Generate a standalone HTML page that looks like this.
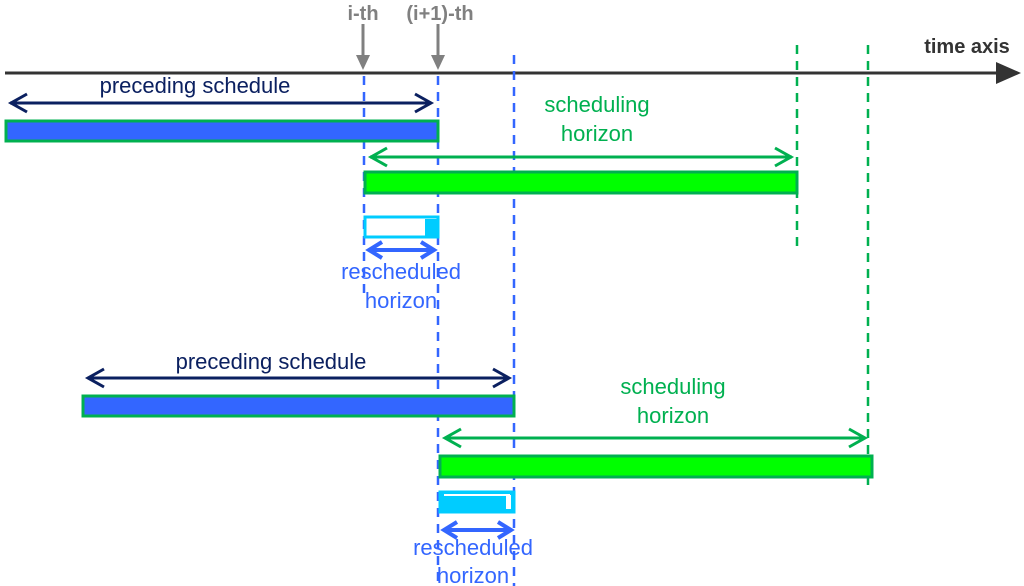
<!DOCTYPE html>
<html><head><style>body{margin:0;background:#fff}svg{display:block;font-family:"Liberation Sans",sans-serif}</style></head>
<body>
<svg width="1024" height="586" viewBox="0 0 1024 586">
<!-- axis -->
<line x1="5" y1="73" x2="1000" y2="73" stroke="#333" stroke-width="3"/>
<path d="M996,62 L1021,73 L996,84 Z" fill="#333"/>
<text x="967" y="53" font-size="20" font-weight="bold" fill="#333" text-anchor="middle">time axis</text>
<!-- markers -->
<text x="363" y="20" font-size="20" font-weight="bold" fill="#808080" text-anchor="middle">i-th</text>
<text x="440" y="20" font-size="20" font-weight="bold" fill="#808080" text-anchor="middle">(i+1)-th</text>
<line x1="363" y1="24" x2="363" y2="58" stroke="#808080" stroke-width="3"/>
<path d="M356,55 L363,70 L370,55 Z" fill="#808080"/>
<line x1="438" y1="24" x2="438" y2="58" stroke="#808080" stroke-width="3"/>
<path d="M431,55 L438,70 L445,55 Z" fill="#808080"/>
<!-- dashed lines -->
<g stroke="#3366ff" stroke-width="2.5" stroke-dasharray="9,7" fill="none">
<line x1="364" y1="76" x2="364" y2="300"/>
<line x1="438" y1="76" x2="438" y2="586"/>
<line x1="514" y1="55" x2="514" y2="586"/>
</g>
<g stroke="#00b050" stroke-width="2.5" stroke-dasharray="9,7" fill="none">
<line x1="797" y1="45" x2="797" y2="250"/>
<line x1="868" y1="45" x2="868" y2="485"/>
</g>
<!-- top block -->
<text x="195" y="93" font-size="22" fill="#0b2060" text-anchor="middle">preceding schedule</text>
<g stroke="#0b2060" stroke-width="3" fill="none">
<line x1="10" y1="103" x2="431" y2="103"/>
<polyline points="27,94 11,103 27,112"/><polyline points="415,94 431,103 415,112"/>
</g>
<rect x="6" y="121" width="432" height="20" fill="#3366ff" stroke="#00b050" stroke-width="3"/>
<text x="597" y="112" font-size="22" fill="#00b050" text-anchor="middle">scheduling</text>
<text x="597" y="141" font-size="22" fill="#00b050" text-anchor="middle">horizon</text>
<g stroke="#00b050" stroke-width="3" fill="none">
<line x1="370" y1="157" x2="792" y2="157"/>
<polyline points="387,148 371,157 387,166"/><polyline points="775,148 791,157 775,166"/>
</g>
<rect x="365" y="172" width="432" height="21" fill="#00ff00" stroke="#00b050" stroke-width="3"/>
<rect x="365" y="217" width="73" height="20" fill="#fff" stroke="#00ccff" stroke-width="3"/>
<rect x="425" y="219" width="13" height="18" fill="#00ccff"/>
<g stroke="#3366ff" stroke-width="4" fill="none">
<line x1="369" y1="250" x2="434" y2="250"/>
<polyline points="382,242 369,250 382,258"/><polyline points="421,242 434,250 421,258"/>
</g>
<text x="401" y="279" font-size="22" fill="#3366ff" text-anchor="middle">rescheduled</text>
<text x="401" y="308" font-size="22" fill="#3366ff" text-anchor="middle">horizon</text>
<!-- bottom block -->
<text x="271" y="369" font-size="22" fill="#0b2060" text-anchor="middle">preceding schedule</text>
<g stroke="#0b2060" stroke-width="3" fill="none">
<line x1="88" y1="378" x2="509" y2="378"/>
<polyline points="104,369 88,378 104,387"/><polyline points="493,369 509,378 493,387"/>
</g>
<rect x="83" y="396" width="431" height="20" fill="#3366ff" stroke="#00b050" stroke-width="3"/>
<text x="673" y="394" font-size="22" fill="#00b050" text-anchor="middle">scheduling</text>
<text x="673" y="423" font-size="22" fill="#00b050" text-anchor="middle">horizon</text>
<g stroke="#00b050" stroke-width="3" fill="none">
<line x1="445" y1="438" x2="865" y2="438"/>
<polyline points="461,429 445,438 461,447"/><polyline points="849,429 865,438 849,447"/>
</g>
<rect x="440" y="456" width="432" height="21" fill="#00ff00" stroke="#00b050" stroke-width="3"/>
<rect x="440" y="492" width="74" height="20" fill="#00ccff" stroke="#00ccff" stroke-width="3"/>
<line x1="444" y1="495" x2="510" y2="495" stroke="#fff" stroke-width="2"/>
<rect x="506" y="495" width="5" height="14" fill="#fff"/>
<g stroke="#3366ff" stroke-width="4" fill="none">
<line x1="444" y1="530" x2="511" y2="530"/>
<polyline points="457,522 444,530 457,538"/><polyline points="498,522 511,530 498,538"/>
</g>
<text x="473" y="555" font-size="22" fill="#3366ff" text-anchor="middle">rescheduled</text>
<text x="473" y="583" font-size="22" fill="#3366ff" text-anchor="middle">horizon</text>
</svg>
</body></html>
